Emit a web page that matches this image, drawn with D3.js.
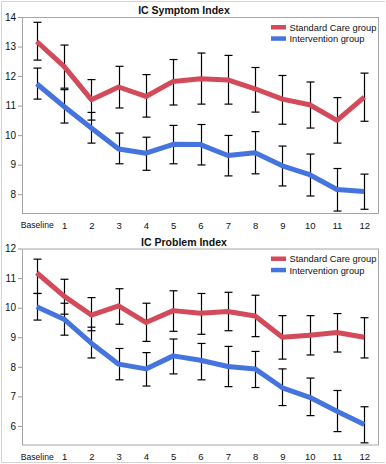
<!DOCTYPE html>
<html>
<head>
<meta charset="utf-8">
<script src="https://cdn.jsdelivr.net/npm/d3@7"></script>
<style>
  body { margin: 0; background: #fff; }
  text { font-family: "Liberation Sans", Arial, sans-serif; fill: #111; }
</style>
</head>
<body>
<script>
var categories = ["Baseline","1","2","3","4","5","6","7","8","9","10","11","12"];
var seriesNames = ["Standard Care group", "Intervention group"];

// IC Symptom Index
var symStdMean = [13.17,12.33,11.20,11.63,11.31,11.82,11.91,11.87,11.57,11.22,11.03,10.50,11.29];
var symStdLo   = [12.54,11.59,10.51,10.92,10.61,11.02,11.05,11.05,10.78,10.37,10.24, 9.73,10.47];
var symStdHi   = [13.82,13.05,11.88,12.33,12.05,12.56,12.78,12.70,12.29,12.02,11.80,11.27,12.10];
var symIntMean = [11.74,10.97,10.24, 9.53, 9.39, 9.69, 9.68, 9.31, 9.40, 8.96, 8.66, 8.16, 8.09];
var symIntLo   = [11.22,10.41, 9.73, 9.03, 8.81, 9.03, 8.99, 8.62, 8.69, 8.28, 7.94, 7.43, 7.49];
var symIntHi   = [12.27,11.54,10.77,10.07, 9.93,10.33,10.36, 9.99,10.12, 9.63, 9.36, 8.87, 8.68];
var symTicks = [8,9,10,11,12,13,14];

// IC Problem Index
var proStdMean = [11.18,10.39, 9.75,10.06, 9.50, 9.90, 9.81, 9.87, 9.72, 9.00, 9.07, 9.16, 9.00];
var proStdLo   = [10.48, 9.78, 9.22, 9.44, 8.86, 9.20, 9.10, 9.22, 9.02, 8.26, 8.40, 8.50, 8.30];
var proStdHi   = [11.64,10.96,10.34,10.64,10.15,10.57,10.48,10.52,10.42, 9.73, 9.73, 9.80, 9.66];
var proIntMean = [10.03, 9.61, 8.80, 8.09, 7.93, 8.37, 8.22, 8.01, 7.93, 7.29, 6.97, 6.50, 6.05];
var proIntLo   = [ 9.58, 9.07, 8.30, 7.56, 7.35, 7.76, 7.56, 7.33, 7.30, 6.69, 6.35, 5.81, 5.43];
var proIntHi   = [10.48,10.15, 9.34, 8.62, 8.48, 8.94, 8.79, 8.69, 8.52, 7.93, 7.62, 7.20, 6.65];
var proTicks = [6,7,8,9,10,11,12];

var colors = ["#d34a5b", "#4674de"];

var svg = d3.select("body").append("svg")
  .attr("width", 386)
  .attr("height", 464);

// outer light border
svg.append("path")
  .attr("d", "M385,1.5H1.5V462.5H385")
  .attr("fill", "none")
  .attr("stroke", "#d4d4d4");

function panel(top, title, yDomain, ticks, stdM, stdL, stdH, intM, intL, intH) {
  var g = svg.append("g").attr("transform", "translate(0," + top + ")");

  var x = d3.scalePoint()
    .domain(categories)
    .range([22, 379])
    .padding(0.54);

  var y = d3.scaleLinear()
    .domain(yDomain)
    .range([214, 17]);

  // title
  g.append("text")
    .text(title)
    .attr("x", 184)
    .attr("y", 14)
    .attr("text-anchor", "middle")
    .style("font-size", "10.5px")
    .style("font-weight", "bold");

  // y axis
  var yAxis = d3.axisLeft(y).tickValues(ticks).tickFormat(d3.format("d")).tickSize(4).tickPadding(2);
  var ya = g.append("g").attr("transform", "translate(22,0)").call(yAxis);
  ya.select(".domain").remove();
  ya.selectAll("line").attr("stroke", "#9a9a9a");
  ya.selectAll("text").style("font-size", "10px").attr("fill", "#111");

  // x axis
  var xAxis = d3.axisBottom(x).tickSize(0).tickPadding(8);
  var xa = g.append("g").attr("transform", "translate(0,214)").call(xAxis);
  xa.select(".domain").remove();
  xa.selectAll("text").style("font-size", "9.5px").attr("fill", "#111")
    .filter(function(d) { return d === "Baseline"; })
    .style("font-size", "8.6px");

  // frame
  g.append("rect")
    .attr("x", 22.5).attr("y", 17.5)
    .attr("width", 356).attr("height", 196)
    .attr("fill", "none")
    .attr("stroke", "#a6a6a6");

  var groups = [
    {m: stdM, lo: stdL, hi: stdH, c: colors[0]},
    {m: intM, lo: intL, hi: intH, c: colors[1]}
  ];

  // error bars
  groups.forEach(function(s) {
    var eb = g.append("g").attr("stroke", "#000").attr("stroke-width", 1.2).attr("fill", "none");
    categories.forEach(function(cat, i) {
      var cx = Math.round(x(cat)) + 0.5;
      eb.append("line").attr("x1", cx).attr("x2", cx).attr("y1", y(s.hi[i])).attr("y2", y(s.lo[i]));
      eb.append("line").attr("x1", cx - 4).attr("x2", cx + 4).attr("y1", y(s.hi[i])).attr("y2", y(s.hi[i]));
      eb.append("line").attr("x1", cx - 4).attr("x2", cx + 4).attr("y1", y(s.lo[i])).attr("y2", y(s.lo[i]));
    });
  });

  // mean lines
  var line = d3.line()
    .x(function(d, i) { return x(categories[i]); })
    .y(function(d) { return y(d); });

  groups.forEach(function(s) {
    g.append("path")
      .datum(s.m)
      .attr("d", line)
      .attr("fill", "none")
      .attr("stroke", s.c)
      .attr("stroke-width", 5)
      .attr("stroke-linejoin", "round");
  });

  // legend
  seriesNames.forEach(function(name, i) {
    g.append("rect")
      .attr("x", 271).attr("y", 25 + i * 11.3)
      .attr("width", 15).attr("height", 4.5)
      .attr("fill", colors[i]);
    g.append("text")
      .text(name)
      .attr("x", 289.5)
      .attr("y", 30.8 + i * 11.3)
      .style("font-size", "9.3px");
  });
}

panel(0, "IC Symptom Index", [7.33, 14], symTicks,
  symStdMean, symStdLo, symStdHi, symIntMean, symIntLo, symIntHi);
panel(231.5, "IC Problem Index", [5.34, 12], proTicks,
  proStdMean, proStdLo, proStdHi, proIntMean, proIntLo, proIntHi);
</script>
</body>
</html>
